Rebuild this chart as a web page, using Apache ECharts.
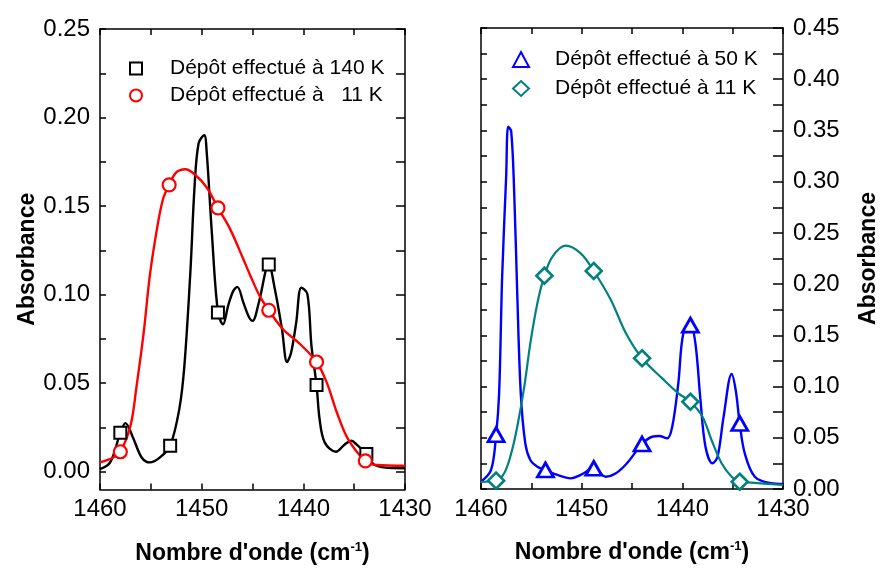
<!DOCTYPE html>
<html lang="fr">
<head>
<meta charset="UTF-8">
<title>Absorbance</title>
<script src="https://cdn.jsdelivr.net/npm/echarts@6/dist/echarts.min.js"></script>
<style>
  html, body { margin: 0; padding: 0; background: #fff; }
  #chart { width: 881px; height: 570px; }
</style>
</head>
<body>
<div id="chart"></div>
<script>
// left panel : deposit at 140 K (black) and 11 K (red)
var wn140 = [1460, 1459.0, 1458.0, 1457.5, 1456.7, 1455.9, 1455.1, 1454.1, 1453.1, 1452.2, 1451.7, 1451.1, 1450.7, 1450.3, 1449.75, 1449.5, 1449.0, 1448.4, 1447.9, 1447.4, 1446.9, 1446.5, 1445.9, 1445.4, 1445.0, 1444.4, 1443.4, 1442.8, 1442.1, 1441.6, 1441.2, 1440.7, 1440.2, 1439.6, 1439.2, 1438.7, 1438.4, 1437.9, 1436.8, 1435.9, 1435.25, 1434.8, 1433.8, 1433.1, 1432.1, 1430];
var abs140 = [0.0015, 0.0053, 0.022, 0.0275, 0.0185, 0.0081, 0.0053, 0.0081, 0.0147, 0.0354, 0.0598, 0.114, 0.161, 0.1855, 0.190, 0.180, 0.135, 0.090, 0.0833, 0.0937, 0.102, 0.1044, 0.0956, 0.088, 0.0852, 0.095, 0.117, 0.103, 0.0805, 0.062, 0.0674, 0.0843, 0.104, 0.1003, 0.0711, 0.049, 0.0297, 0.0166, 0.0113, 0.0156, 0.0175, 0.0156, 0.010, 0.0043, 0.0025, 0.002];
var wn140Sym = [1458.0, 1453.1, 1448.4, 1443.4, 1438.7, 1433.8];
var abs140Sym = [0.022, 0.0147, 0.090, 0.117, 0.049, 0.010];

var wn11a = [1460, 1458.7, 1458.0, 1457.0, 1456.4, 1455.7, 1455.1, 1454.4, 1453.8, 1453.2, 1452.5, 1451.6, 1450.7, 1449.5, 1448.4, 1447.2, 1445.9, 1445.2, 1444.3, 1443.4, 1442.0, 1440.3, 1438.7, 1437.7, 1436.7, 1435.6, 1433.9, 1432.8, 1430];
var abs11a = [0.0053, 0.0081, 0.0113, 0.026, 0.0485, 0.0787, 0.1107, 0.137, 0.154, 0.162, 0.169, 0.1708, 0.168, 0.1605, 0.149, 0.137, 0.120, 0.1106, 0.0993, 0.0912, 0.0805, 0.072, 0.062, 0.0505, 0.0335, 0.0185, 0.0062, 0.0038, 0.0034];
var wn11aSym = [1458.0, 1453.2, 1448.4, 1443.4, 1438.7, 1433.9];
var abs11aSym = [0.0113, 0.162, 0.149, 0.0912, 0.062, 0.0062];

// right panel : deposit at 50 K (blue) and 11 K (teal)
var wn50 = [1460, 1459.0, 1458.5, 1458.2, 1457.9, 1457.5, 1457.3, 1457.0, 1456.7, 1456.4, 1456.05, 1455.6, 1455.1, 1454.4, 1453.6, 1452.4, 1451.1, 1450.1, 1448.8, 1447.6, 1446.6, 1445.5, 1444.0, 1443.0, 1442.3, 1441.5, 1441.0, 1440.4, 1439.9, 1439.2, 1438.7, 1438.2, 1437.7, 1437.0, 1436.5, 1435.9, 1435.1, 1434.7, 1434.3, 1433.8, 1432.8, 1431.2, 1430];
var abs50 = [0.0071, 0.0186, 0.053, 0.0934, 0.207, 0.305, 0.3537, 0.349, 0.2887, 0.191, 0.0934, 0.0446, 0.0283, 0.0218, 0.0186, 0.0137, 0.0104, 0.0137, 0.0202, 0.012, 0.0153, 0.0251, 0.0439, 0.051, 0.0517, 0.0495, 0.061, 0.1032, 0.152, 0.160, 0.142, 0.0869, 0.0413, 0.0251, 0.0315, 0.0706, 0.1123, 0.0966, 0.064, 0.0349, 0.012, 0.0056, 0.0049];
var wn50Sym = [1458.5, 1453.6, 1448.8, 1444.0, 1439.2, 1434.3];
var abs50Sym = [0.053, 0.0186, 0.0202, 0.0439, 0.160, 0.064];

var wn11b = [1460, 1458.5, 1457.7, 1457.0, 1456.4, 1455.7, 1455.1, 1454.4, 1453.7, 1452.9, 1451.6, 1450.1, 1448.8, 1447.1, 1445.6, 1444.0, 1442.0, 1440.4, 1439.2, 1438.0, 1437.1, 1436.1, 1435.1, 1434.3, 1433.1, 1430];
var abs11b = [0.007, 0.0081, 0.0153, 0.0348, 0.0608, 0.0999, 0.1422, 0.1813, 0.2082, 0.2268, 0.2375, 0.230, 0.2128, 0.1845, 0.152, 0.1276, 0.108, 0.0934, 0.0852, 0.0706, 0.0478, 0.0251, 0.012, 0.0071, 0.0062, 0.0039];
var wn11bSym = [1458.5, 1453.7, 1448.8, 1444.0, 1439.2, 1434.3];
var abs11bSym = [0.0081, 0.2082, 0.2128, 0.1276, 0.0852, 0.0071];

// ticks
var xTicks = [1460, 1455, 1450, 1445, 1440, 1435, 1430];
var xLabels = [1460, 1450, 1440, 1430];
var yTicksL = [0, 0.025, 0.05, 0.075, 0.1, 0.125, 0.15, 0.175, 0.2, 0.225, 0.25];
var yLabelsL = [0, 0.05, 0.1, 0.15, 0.2, 0.25];
var yTicksR = [0, 0.025, 0.05, 0.075, 0.1, 0.125, 0.15, 0.175, 0.2, 0.225, 0.25, 0.275, 0.3, 0.325, 0.35, 0.375, 0.4, 0.425, 0.45];
var yLabelsR = [0, 0.05, 0.1, 0.15, 0.2, 0.25, 0.3, 0.35, 0.4, 0.45];

var legendLeft = ['Dépôt effectué à 140 K', 'Dépôt effectué à   11 K'];
var legendRight = ['Dépôt effectué à 50 K', 'Dépôt effectué à 11 K'];

var FONT = '"Liberation Sans", Arial, sans-serif';

function pairs(xs, ys) {
  return xs.map(function (x, i) { return [x, ys[i]]; });
}

var axisLine = { show: true, onZero: false, lineStyle: { color: '#000', width: 1.5 } };

var xName = "{a|Nombre d'onde (cm}{s|-1}{a|)}";
var xNameStyle = {
  rich: {
    a: { fontFamily: FONT, fontSize: 23, fontWeight: 'bold', color: '#000', lineHeight: 26 },
    s: { fontFamily: FONT, fontSize: 13, fontWeight: 'bold', color: '#000', lineHeight: 13, verticalAlign: 'top' }
  }
};

function xAxisOf(grid, pos, labels) {
  var ax = {
    type: 'value', gridIndex: grid, position: pos, inverse: true,
    min: 1430, max: 1460,
    axisLine: axisLine,
    axisTick: { show: true, inside: true, length: 6, customValues: xTicks, lineStyle: { color: '#000', width: 1.5 } },
    axisLabel: {
      show: labels, margin: 8, customValues: xLabels, fontFamily: FONT, fontSize: 24, color: '#000',
      formatter: function (v) { return String(Math.round(v)); }
    },
    splitLine: { show: false }
  };
  if (labels) {
    ax.name = xName;
    ax.nameLocation = 'middle';
    ax.nameGap = 51;
    ax.nameTextStyle = xNameStyle;
  }
  return ax;
}

function yAxisOf(grid, pos, labels, min, max, ticks, labs, tickLen, gap) {
  var ax = {
    type: 'value', gridIndex: grid, position: pos,
    min: min, max: max,
    axisLine: axisLine,
    axisTick: { show: true, inside: true, length: tickLen, customValues: ticks, lineStyle: { color: '#000', width: 1.5 } },
    axisLabel: {
      show: labels, margin: 10, customValues: labs, fontFamily: FONT, fontSize: 24, color: '#000',
      formatter: function (v) { return v.toFixed(2); }
    },
    splitLine: { show: false }
  };
  if (labels) {
    ax.name = 'Absorbance';
    ax.nameLocation = 'middle';
    ax.nameRotate = 90;
    ax.nameGap = gap;
    ax.nameTextStyle = { fontFamily: FONT, fontSize: 23, fontWeight: 'bold', color: '#000' };
  }
  return ax;
}

function lineSeries(name, xi, yi, data, color, width) {
  return {
    name: name, type: 'line', xAxisIndex: xi, yAxisIndex: yi,
    data: data, showSymbol: false, symbol: 'none', smooth: 0.35,
    lineStyle: { color: color, width: width }, z: 2, silent: true
  };
}

function symSeries(name, xi, yi, data, symbol, size, color, bw) {
  return {
    name: name, type: 'scatter', xAxisIndex: xi, yAxisIndex: yi,
    data: data, symbol: symbol, symbolSize: size,
    itemStyle: { color: '#fff', borderColor: color, borderWidth: bw, opacity: 1 }, z: 4
  };
}

function legendOf(left, top, names, iw, ih, padLeft, lh) {
  return {
    left: left, top: top, orient: 'vertical', padding: 0, itemGap: 0,
    itemWidth: iw, itemHeight: ih, data: names, selectedMode: false,
    textStyle: { fontFamily: FONT, fontSize: 21, color: '#000', lineHeight: lh, padding: [0, 0, 0, padLeft] }
  };
}

var option = {
  backgroundColor: '#fff',
  animation: false,
  grid: [
    { left: 100, top: 29, width: 305, height: 461 },
    { left: 481, top: 28, width: 304, height: 461 }
  ],
  legend: [
    legendOf(129, 55, legendLeft, 12, 12, 23, 27),
    legendOf(512, 45, legendRight, 16, 15, 21, 29)
  ],
  xAxis: [
    xAxisOf(0, 'bottom', true),
    xAxisOf(0, 'top', false),
    xAxisOf(1, 'bottom', true),
    xAxisOf(1, 'top', false)
  ],
  yAxis: [
    yAxisOf(0, 'left', true, -0.01, 0.25, yTicksL, yLabelsL, 6, 60),
    yAxisOf(0, 'right', false, -0.01, 0.25, yTicksL, yLabelsL, 9, 0),
    yAxisOf(1, 'right', true, 0, 0.45, yTicksR, yLabelsR, 10, 74),
    yAxisOf(1, 'left', false, 0, 0.45, yTicksR, yLabelsR, 6, 0)
  ],
  series: [
    lineSeries('trace 140 K', 0, 0, pairs(wn140, abs140), '#000', 2.4),
    lineSeries('trace 11 K a', 0, 0, pairs(wn11a, abs11a), '#ff0000', 2.4),
    symSeries(legendLeft[0], 0, 0, pairs(wn140Sym, abs140Sym), 'rect', 12, '#000', 2),
    symSeries(legendLeft[1], 0, 0, pairs(wn11aSym, abs11aSym), 'circle', 13, '#ff0000', 2.2),
    lineSeries('trace 50 K', 2, 2, pairs(wn50, abs50), '#0000ff', 2.4),
    lineSeries('trace 11 K b', 2, 2, pairs(wn11b, abs11b), '#008080', 2.2),
    symSeries(legendRight[0], 2, 2, pairs(wn50Sym, abs50Sym), 'triangle', [16, 14], '#0000ff', 2.8),
    symSeries(legendRight[1], 2, 2, pairs(wn11bSym, abs11bSym), 'diamond', [16, 16], '#008080', 2.6)
  ]
};

var chart = echarts.init(document.getElementById('chart'), null, { renderer: 'canvas' });
chart.setOption(option);
</script>
</body>
</html>
